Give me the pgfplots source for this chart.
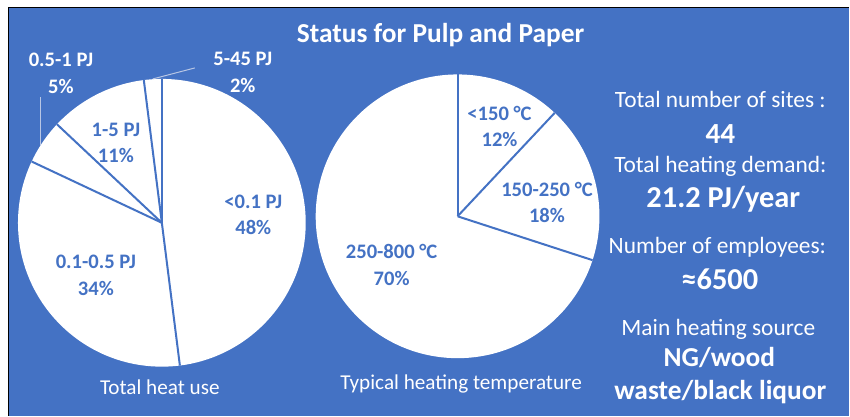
\documentclass[border=0pt]{standalone}
\usepackage{pgfplots}
\pgfplotsset{compat=1.18}
\usepgfplotslibrary{polar}
\usepackage{fontspec}
\setmainfont{Carlito}
\definecolor{bg}{HTML}{4472C4}
\definecolor{lead}{HTML}{B8C6E4}
\newcommand{\fs}[1]{\fontsize{#1}{#1}\selectfont}
\pgfplotsset{pie/.style={anchor=center, scale only axis,
  ymin=0, ymax=1, xtick=\empty, ytick=\empty, axis line style={draw=none},
  axis background/.style={fill=white}, clip=false},
  cut/.style={bg, line width=1pt, no markers}}
\begin{document}
\begin{tikzpicture}
\begin{scope}[x=0.5pt,y=-0.5pt]
\fill[white] (0,0) rectangle (850,416);
\fill[bg] (8.5,7.5) rectangle (850,416);
\draw[black, line width=0.8pt] (8.5,416) -- (8.5,7.5) -- (850,7.5);
\end{scope}

% Left pie: Total heat use (boundaries clockwise from 90 deg: 48, 34, 5, 11, 2 %)
\begin{polaraxis}[pie, at={(81pt,-111.5pt)}, width=144pt, height=144pt]
\addplot[cut] coordinates {(0,0) (90,1)};
\addplot[cut] coordinates {(0,0) (-82.8,1)};
\addplot[cut] coordinates {(0,0) (154.8,1)};
\addplot[cut] coordinates {(0,0) (136.8,1)};
\addplot[cut] coordinates {(0,0) (97.2,1)};
\end{polaraxis}

% Right pie: Typical heating temperature (12, 18, 70 %)
\begin{polaraxis}[pie, at={(229pt,-108.25pt)}, width=142pt, height=142pt]
\addplot[cut] coordinates {(0,0) (90,1)};
\addplot[cut] coordinates {(0,0) (46.8,1)};
\addplot[cut] coordinates {(0,0) (-18,1)};
\end{polaraxis}

\begin{scope}[x=0.5pt,y=-0.5pt]
% leader lines
\draw[lead, line width=0.5pt] (41,97) -- (41,145);
\draw[lead, line width=0.5pt] (153,79) -- (195,68);

% title
\node[white, anchor=base, font=\bfseries\fs{13.7pt}] at (441,43) {Status for Pulp and Paper};

% pie labels
\begin{scope}[every node/.style={anchor=base, font=\bfseries\fs{10.3pt}}]
\node[bg] at (253.5,208.5) {<0.1 PJ};
\node[bg] at (253.5,235) {48\%};
\node[bg] at (96,269) {0.1-0.5 PJ};
\node[bg] at (96,295.5) {34\%};
\node[bg] at (116,137) {1-5 PJ};
\node[bg] at (116,163) {11\%};
\node[white] at (61,67) {0.5-1 PJ};
\node[white] at (61,94) {5\%};
\node[white] at (243,66) {5-45 PJ};
\node[white] at (243,93) {2\%};
\node[bg] at (500,121) {<150 °C};
\node[bg] at (500,146.5) {12\%};
\node[bg] at (547.5,197) {150-250 °C};
\node[bg] at (547.5,222.5) {18\%};
\node[bg] at (392,259) {250-800 °C};
\node[bg] at (392,285.5) {70\%};
\end{scope}

% captions
\node[white, anchor=base, font=\fs{10.6pt}] at (160,395) {Total heat use};
\node[white, anchor=base, font=\fs{10.6pt}] at (461.5,390) {Typical heating temperature};

% right info block
\begin{scope}[every node/.style={anchor=base, text=white}]
\node[font=\fs{11.7pt}] at (721,107.3) {Total number of sites :};
\node[font=\bfseries\fs{14.6pt}] at (721,143.3) {44};
\node[font=\fs{11.7pt}] at (721,172.7) {Total heating demand:};
\node[font=\bfseries\fs{15.2pt}] at (724,207.7) {21.2 PJ/year};
\node[font=\fs{11.7pt}] at (718,254) {Number of employees:};
\node[font=\bfseries\fs{15.2pt}] at (720.5,290) {≈6500};
\node[font=\fs{11.7pt}] at (719,336) {Main heating source};
\node[font=\bfseries\fs{13.7pt}] at (720,367.3) {NG/wood};
\node[font=\bfseries\fs{13.7pt}] at (721,400) {waste/black liquor};
\end{scope}
\end{scope}
\end{tikzpicture}
\end{document}
